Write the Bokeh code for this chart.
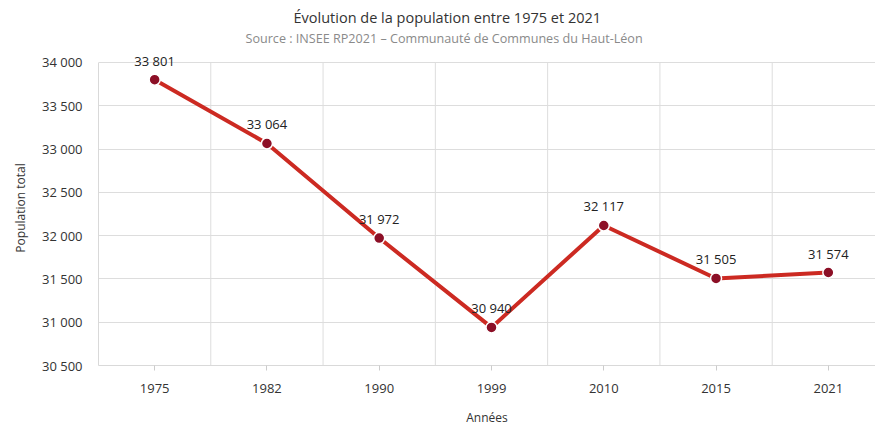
from bokeh.plotting import figure
from bokeh.models import ColumnDataSource, FixedTicker, Title, LabelSet, Range1d
from bokeh.core.properties import value
from bokeh.embed import file_html
from bokeh.resources import INLINE

# Population du Haut-Léon aux recensements
annees = ["1975", "1982", "1990", "1999", "2010", "2015", "2021"]
population = [33801, 33064, 31972, 30940, 32117, 31505, 31574]
y_ticks = [30500, 31000, 31500, 32000, 32500, 33000, 33500, 34000]

def fr_nombre(n):
    return f"{n:,}".replace(",", "\u00a0")

FONT = "Open Sans"
positions = list(range(len(annees)))
y_min, y_max = y_ticks[0], y_ticks[-1]

source = ColumnDataSource(dict(
    x=positions,
    y=population,
    label=[fr_nombre(v) for v in population],
))

# Un peu d'espace au-dessus de 34 000 pour l'étiquette du premier point
p = figure(
    width=875, height=428,
    output_backend="svg", toolbar_location=None,
    x_range=Range1d(-0.5, len(annees) - 0.58),
    y_range=Range1d(y_min, y_max + 138),
    min_border_left=98, min_border_right=0,
    min_border_top=50, min_border_bottom=61,
    background_fill_color="white", border_fill_color="white",
    outline_line_color=None,
)

# Titre et sous-titre (le premier ajouté est le plus proche du graphique)
p.add_layout(Title(text="Source : INSEE RP2021 \u2013 Communauté de Communes du Haut-Léon",
                   align="left", offset=147, text_font=FONT, text_font_size="12.6px",
                   text_font_style="normal", text_color="#8a8a8a", standoff=8), "above")
p.add_layout(Title(text="Évolution de la population entre 1975 et 2021",
                   align="left", offset=195, text_font=FONT, text_font_size="14.5px",
                   text_font_style="normal", text_color="#333333", standoff=-7), "above")

# Axes
p.xaxis.ticker = FixedTicker(ticks=positions)
p.xaxis.major_label_overrides = {i: a for i, a in enumerate(annees)}
p.xaxis.minor_tick_line_color = None
p.xaxis.major_tick_in = 0
p.xaxis.major_tick_out = 5
p.xaxis.major_tick_line_color = "#cccccc"
p.xaxis.axis_line_color = "#d9d9d9"
p.xaxis.axis_label = "Années"
p.xaxis.axis_label_standoff = 13
p.xaxis.major_label_standoff = 13

p.yaxis.ticker = FixedTicker(ticks=y_ticks)
p.yaxis.bounds = (y_min, y_max)
p.yaxis.major_label_overrides = {t: fr_nombre(t) for t in y_ticks}
p.yaxis.minor_tick_line_color = None
p.yaxis.major_tick_line_color = None
p.yaxis.axis_line_color = "#d9d9d9"
p.yaxis.axis_label = "Population total"
p.yaxis.axis_label_standoff = 10
p.yaxis.major_label_standoff = 10

for ax in (p.xaxis, p.yaxis):
    ax.major_label_text_font = FONT
    ax.major_label_text_font_size = "13px"
    ax.major_label_text_color = "#333333"
    ax.axis_label_text_font = FONT
    ax.axis_label_text_font_size = "12px"
    ax.axis_label_text_font_style = "normal"
    ax.axis_label_text_color = "#333333"

# Grilles : horizontales tous les 500, verticales entre les années
p.xgrid.grid_line_color = None
p.ygrid.grid_line_color = "#dddddd"
separateurs = [i + 0.5 for i in positions[:-1]]
p.segment(x0=separateurs, x1=separateurs,
          y0=[y_min] * len(separateurs), y1=[y_max] * len(separateurs),
          line_color="#dddddd", line_width=1)

p.line("x", "y", source=source, line_color="#cc2a22", line_width=4)
p.scatter("x", "y", source=source, size=11, fill_color="#8c0f26",
          line_color="white", line_width=1.5)

labels = LabelSet(x="x", y="y", text="label", source=source,
                  text_align="center", text_baseline="middle", y_offset=19,
                  text_font=value(FONT), text_font_size=value("13px"),
                  text_color="#222222")
p.add_layout(labels)

open("out.html", "w").write(file_html(p, INLINE))
